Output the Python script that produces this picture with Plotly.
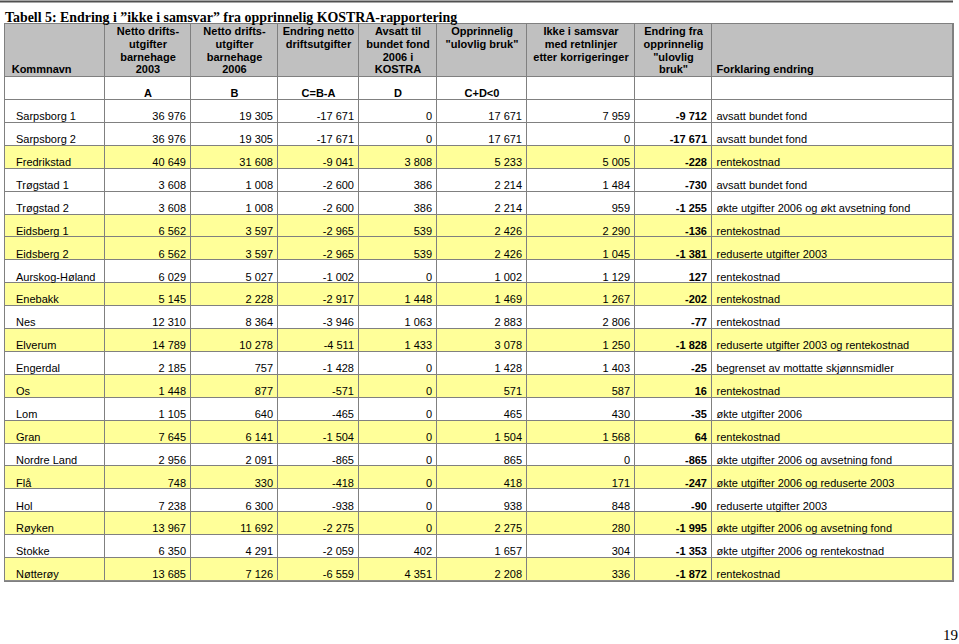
import plotly.graph_objects as go

kommune = ["Sarpsborg 1", "Sarpsborg 2", "Fredrikstad", "Trøgstad 1", "Trøgstad 2",
           "Eidsberg 1", "Eidsberg 2", "Aurskog-Høland", "Enebakk", "Nes", "Elverum",
           "Engerdal", "Os", "Lom", "Gran", "Nordre Land", "Flå", "Hol", "Røyken",
           "Stokke", "Nøtterøy"]
netto_2003 = [36976, 36976, 40649, 3608, 3608, 6562, 6562, 6029, 5145, 12310, 14789,
              2185, 1448, 1105, 7645, 2956, 748, 7238, 13967, 6350, 13685]
netto_2006 = [19305, 19305, 31608, 1008, 1008, 3597, 3597, 5027, 2228, 8364, 10278,
              757, 877, 640, 6141, 2091, 330, 6300, 11692, 4291, 7126]
endring_netto = [-17671, -17671, -9041, -2600, -2600, -2965, -2965, -1002, -2917, -3946, -4511,
                 -1428, -571, -465, -1504, -865, -418, -938, -2275, -2059, -6559]
avsatt_fond = [0, 0, 3808, 386, 386, 539, 539, 0, 1448, 1063, 1433,
               0, 0, 0, 0, 0, 0, 0, 0, 402, 4351]
opprinnelig = [17671, 17671, 5233, 2214, 2214, 2426, 2426, 1002, 1469, 2883, 3078,
               1428, 571, 465, 1504, 865, 418, 938, 2275, 1657, 2208]
ikke_samsvar = [7959, 0, 5005, 1484, 959, 2290, 1045, 1129, 1267, 2806, 1250,
                1403, 587, 430, 1568, 0, 171, 848, 280, 304, 336]
endring_fra = [-9712, -17671, -228, -730, -1255, -136, -1381, 127, -202, -77, -1828,
               -25, 16, -35, 64, -865, -247, -90, -1995, -1353, -1872]
forklaring = ["avsatt bundet fond", "avsatt bundet fond", "rentekostnad", "avsatt bundet fond",
              "økte utgifter 2006 og økt avsetning fond", "rentekostnad", "reduserte utgifter 2003",
              "rentekostnad", "rentekostnad", "rentekostnad", "reduserte utgifter 2003 og rentekostnad",
              "begrenset av mottatte skjønnsmidler", "rentekostnad", "økte utgifter 2006",
              "rentekostnad", "økte utgifter 2006 og avsetning fond",
              "økte utgifter 2006 og reduserte 2003", "reduserte utgifter 2003",
              "økte utgifter 2006 og avsetning fond", "økte utgifter 2006 og rentekostnad",
              "rentekostnad"]
# rows shaded yellow in the original
markert = [0, 0, 1, 0, 0, 1, 1, 0, 1, 0, 1, 0, 1, 0, 1, 0, 1, 0, 1, 0, 1]

headers = [["Kommnavn"],
           ["Netto drifts-", "utgifter", "barnehage", "2003"],
           ["Netto drifts-", "utgifter", "barnehage", "2006"],
           ["Endring netto", "driftsutgifter"],
           ["Avsatt til", "bundet fond", "2006 i", "KOSTRA"],
           ["Opprinnelig", "\"ulovlig bruk\""],
           ["Ikke i samsvar", "med retnlinjer", "etter korrigeringer"],
           ["Endring fra", "opprinnelig", "\"ulovlig", "bruk\""],
           ["Forklaring endring"]]
formler = ["", "A", "B", "C=B-A", "D", "C+D<0", "", "", ""]

# layout constants (pixels)
W, H = 959, 644
col_px = [100, 86, 87, 81, 78, 90, 108, 77, 241]
LEFT, TOP_HEAD, TOP_FORM, TOP_DATA, ROW_H = 5, 24, 77, 100, 22.9
YELLOW = "#ffff99"
GRAY_HEAD = "#c0c0c0"
GRID = "#808080"
SANS = "Liberation Sans, Arial"
SERIF = "Liberation Serif, Times New Roman"

x_edges = [LEFT]
for w in col_px:
    x_edges.append(x_edges[-1] + w)
n = len(kommune)
y_edges = [TOP_HEAD, TOP_FORM, TOP_DATA] + [TOP_DATA + ROW_H * (k + 1) for k in range(n)]
BOTTOM = y_edges[-1]


def fmt(v):
    return f"{v:,}".replace(",", " ")


fig = go.Figure()

# cell backgrounds: 2 = grey header, 1 = yellow, 0 = white
z = [[2] * 9, [0] * 9] + [[m] * 9 for m in markert]
fig.add_trace(go.Heatmap(
    x=x_edges, y=y_edges, z=z, zmin=0, zmax=2,
    colorscale=[[0, "white"], [0.5, YELLOW], [1, GRAY_HEAD]],
    xgap=1, ygap=1, showscale=False, hoverinfo="skip",
))

# header text, one line per point
for i, lines in enumerate(headers):
    if i in (0, 8):
        xs = [x_edges[i] + (6.7 if i == 0 else 4.5)]
        ys = [70]
        pos = "middle right"
    else:
        xs = [(x_edges[i] + x_edges[i + 1]) / 2] * len(lines)
        ys = [32.5 + 12.7 * k for k in range(len(lines))]
        pos = "middle center"
    fig.add_trace(go.Scatter(
        x=xs, y=ys, text=["<b>" + t + "</b>" for t in lines], mode="text",
        textposition=pos, textfont=dict(family=SANS, size=11, color="black"),
        hoverinfo="skip", showlegend=False,
    ))

# formula row (A, B, C=B-A ...)
fig.add_trace(go.Scatter(
    x=[(x_edges[i] + x_edges[i + 1]) / 2 for i in range(9)],
    y=[TOP_FORM + 17] * 9,
    text=["<b>" + f + "</b>" for f in formler], mode="text",
    textposition="middle center", textfont=dict(family=SANS, size=11, color="black"),
    hoverinfo="skip", showlegend=False,
))

# data cells
row_y = [TOP_DATA + ROW_H * k + 17.5 for k in range(n)]
columns = [kommune, netto_2003, netto_2006, endring_netto, avsatt_fond,
           opprinnelig, ikke_samsvar, endring_fra, forklaring]
for i, col in enumerate(columns):
    if i == 0:
        xs, pos = x_edges[0] + 11, "middle right"
        texts = col
    elif i == 8:
        xs, pos = x_edges[8] + 4.5, "middle right"
        texts = col
    else:
        xs, pos = x_edges[i + 1] - 5, "middle left"
        texts = [("<b>%s</b>" if i == 7 else "%s") % fmt(v) for v in col]
    fig.add_trace(go.Scatter(
        x=[xs] * n, y=row_y, text=texts, mode="text", textposition=pos,
        textfont=dict(family=SANS, size=11, color="black"),
        hoverinfo="skip", showlegend=False,
    ))

fig.add_shape(type="line", xref="paper", yref="paper", x0=0, x1=953 / W,
              y0=1 - 1.5 / H, y1=1 - 1.5 / H, line=dict(color="#505050", width=2))
fig.add_annotation(text="<b>Tabell 5: Endring i ”ikke i samsvar” fra opprinnelig KOSTRA-rapportering</b>",
                   xref="paper", yref="paper", x=3 / W, y=1 - 17 / H, xanchor="left", yanchor="middle",
                   showarrow=False, font=dict(family=SERIF, size=13.9, color="black"))
fig.add_annotation(text="19", xref="paper", yref="paper", x=1, y=0,
                   xanchor="right", yanchor="bottom", showarrow=False, borderpad=0,
                   font=dict(family=SERIF, size=15, color="black"))

fig.update_layout(
    width=W, height=H, margin=dict(l=0, r=0, t=0, b=0),
    paper_bgcolor="white", plot_bgcolor=GRID, showlegend=False,
    xaxis=dict(domain=[LEFT / W, x_edges[-1] / W], range=[LEFT, x_edges[-1]],
               showgrid=False, zeroline=False, showticklabels=False,
               ticks="", showline=True, mirror=True, linecolor=GRID, linewidth=1, fixedrange=True),
    yaxis=dict(domain=[1 - BOTTOM / H, 1 - TOP_HEAD / H], range=[BOTTOM, TOP_HEAD],
               showgrid=False, zeroline=False, showticklabels=False,
               ticks="", showline=True, mirror=True, linecolor=GRID, linewidth=1, fixedrange=True),
)
# the page's default body margin would push the figure 8px down and right
fig.write_html("out.html", config={"displayModeBar": False},
               post_script="document.body.style.margin = '0';")
